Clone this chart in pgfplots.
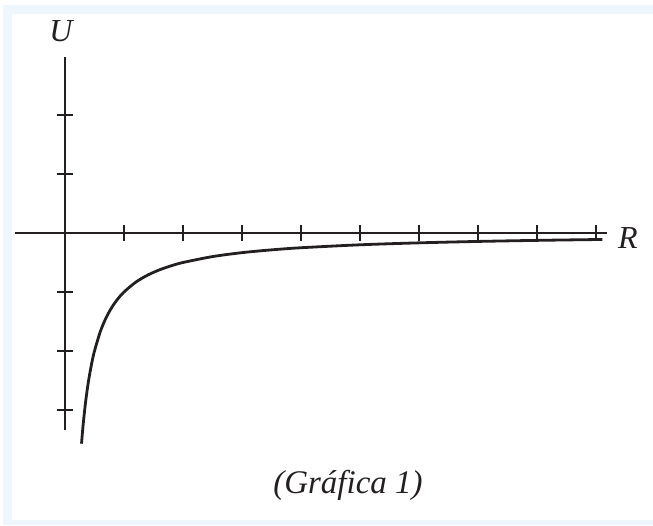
\documentclass[border=0pt]{standalone}
\usepackage{pgfplots}
\pgfplotsset{compat=1.18}
\usepackage{fontspec}
\setmainfont{Liberation Serif}
\definecolor{framebg}{HTML}{EEF7FD}
\definecolor{ink}{HTML}{231F20}

\begin{document}
\begin{tikzpicture}[x=1pt,y=1pt]
  % page and pale frame
  \fill[white] (0,0) rectangle (653,525);
  \fill[framebg] (3,0) rectangle (653,520);
  \fill[white] (12,5) rectangle (653,511);

  \begin{axis}[
    anchor=origin, at={(65pt,292pt)},
    x=59pt, y=59pt,
    axis lines=middle,
    axis line style={-, line width=2.9pt, ink},
    xmin=-0.85, xmax=9.19,
    ymin=-3.34, ymax=2.98,
    xtick={1,2,3,4,5,6,7,8,9},
    ytick={-3,-2,-1,1,2},
    xticklabels={}, yticklabels={},
    tick align=center,
    major tick length=16pt,
    tick style={line width=2.9pt, ink},
    clip=false,
  ]
    % potential energy curve U(R)
    \addplot[ink, line width=2.8pt, smooth, tension=0.5] coordinates {
      (0.28,-3.571) (0.30,-3.333) (0.33,-3.030) (0.36,-2.778)
      (0.40,-2.500) (0.45,-2.222) (0.50,-2.000) (0.60,-1.667)
      (0.70,-1.429) (0.80,-1.250) (0.90,-1.111) (1.00,-1.000)
      (1.20,-0.833) (1.40,-0.714) (1.60,-0.625) (1.80,-0.556)
      (2.00,-0.500) (2.50,-0.400) (3.00,-0.333) (3.50,-0.286)
      (4.00,-0.250) (5.00,-0.200) (6.00,-0.167) (7.00,-0.143)
      (8.00,-0.125) (9.00,-0.111) (9.10,-0.110)
    };
  \end{axis}

  \node[text=ink, font=\fontsize{32}{38}\selectfont\itshape] at (61,494) {U};
  \node[text=ink, font=\fontsize{32}{38}\selectfont\itshape] at (628,287) {R};
  \node[text=ink, font=\fontsize{33}{40}\selectfont\itshape] at (348,40) {(Gráfica 1)};
\end{tikzpicture}
\end{document}
